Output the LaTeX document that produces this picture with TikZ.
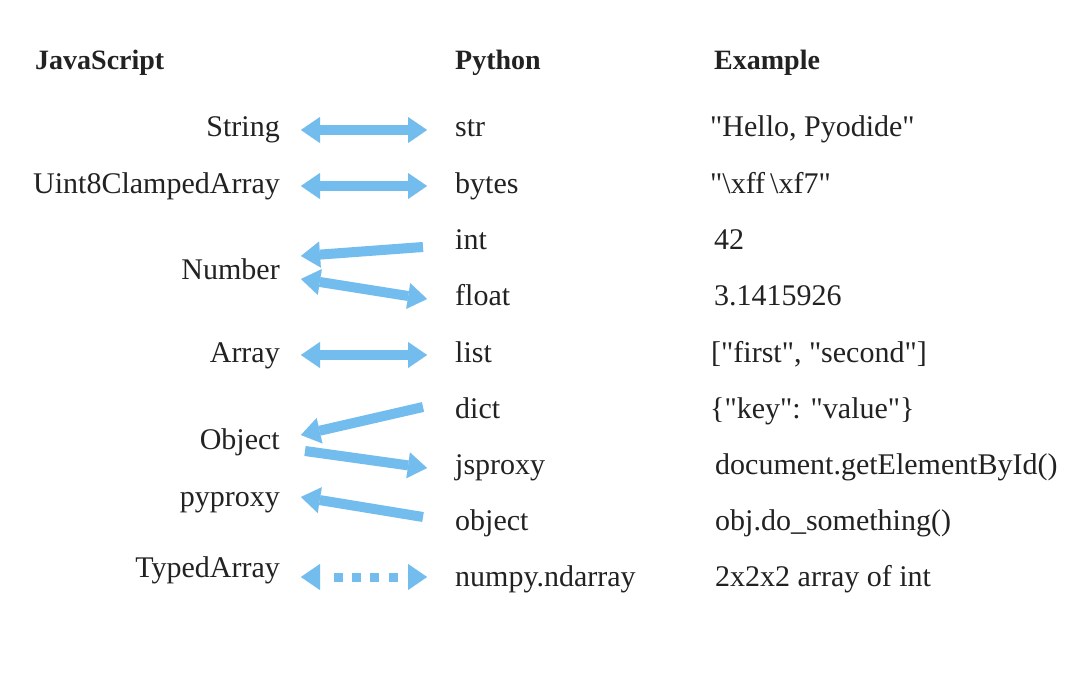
\documentclass[tikz,border=0pt]{standalone}
\usepackage{fontspec}
\setmainfont{Liberation Serif}
\newfontfamily\txtfont{Liberation Serif}
\usetikzlibrary{arrows.meta}
\definecolor{arrowblue}{RGB}{115,188,238}
\definecolor{ink}{RGB}{34,34,34}
\begin{document}
\begin{tikzpicture}[x=1pt,y=-1pt,
  lbl/.style={inner sep=0pt, text=ink, font=\txtfont\fontsize{30}{36}\selectfont},
  hdr/.style={inner sep=0pt, text=ink, font=\txtfont\fontsize{28}{34}\selectfont\bfseries, anchor=base west},
  jsl/.style={lbl, anchor=base east},
  pyl/.style={lbl, anchor=base west},
  headtip/.tip={Triangle[width=26pt,length=19pt,line width=0.01pt]},
  conv/.style={line width=10pt, draw=arrowblue, -headtip},
  both/.style={line width=10pt, draw=arrowblue, headtip-headtip},
]
\useasboundingbox[fill=white] (0,0) rectangle (1080,675);

% headers
\node[hdr] (hjs) at (35,69) {JavaScript};
\node[hdr] (hpy) at (455,69) {Python};
\node[hdr] (hex) at (714,69) {Example};

% JavaScript column
\node[jsl] (jstring) at (280,136) {String};
\node[jsl] (juint) at (280,193) {Uint8ClampedArray};
\node[jsl] (jnumber) at (280,279) {Number};
\node[jsl] (jarray) at (280,362) {Array};
\node[jsl] (jobject) at (280,449) {Object};
\node[jsl] (jpyproxy) at (280,506) {pyproxy};
\node[jsl] (jtyped) at (280,577) {TypedArray};

% Python column
\node[pyl] (pstr) at (455,136) {str};
\node[pyl] (pbytes) at (455,193) {bytes};
\node[pyl] (pint) at (455,249) {int};
\node[pyl] (pfloat) at (455,305) {float};
\node[pyl] (plist) at (455,362) {list};
\node[pyl] (pdict) at (455,418) {dict};
\node[pyl] (pjsproxy) at (455,474) {jsproxy};
\node[pyl] (pobject) at (455,530) {object};
\node[pyl] (pnumpy) at (455,586) {numpy.ndarray};

% Example column
\node[pyl] (estr) at (710,136) {"Hello, Pyodide"};
\node[pyl] (ebytes) at (710,193) {"\textbackslash xff\,\textbackslash xf7"};
\node[pyl] (eint) at (714,249) {42};
\node[pyl] (efloat) at (714,305) {3.1415926};
\node[pyl] (elist) at (711,362) {["first", "second"]};
\node[pyl] (edict) at (710,418) {\{"key": "value"\}};
\node[pyl] (ejsproxy) at (715,474) {document.getElementById()};
\node[pyl] (eobject) at (715,530) {obj.do\_something()};
\node[pyl] (enumpy) at (715,586) {2x2x2 array of int};

% connector end points
\coordinate (sL) at (301,130); \coordinate (sR) at (427,130);
\coordinate (bL) at (301,186); \coordinate (bR) at (427,186);
\coordinate (iT) at (423,247); \coordinate (iH) at (301,256);
\coordinate (fL) at (301,279); \coordinate (fR) at (427,299);
\coordinate (lL) at (301,355); \coordinate (lR) at (427,355);
\coordinate (dT) at (423,407); \coordinate (dH) at (301,435);
\coordinate (jT) at (305,451); \coordinate (jH) at (427,468);
\coordinate (oT) at (423,517); \coordinate (oH) at (301,497);
\coordinate (nL) at (301,577); \coordinate (nR) at (427,577);

% connectors
\draw[both] (sL) -- (sR);
\draw[both] (bL) -- (bR);
\draw[conv] (iT) -- (iH);
\draw[both] (fL) -- (fR);
\draw[both] (lL) -- (lR);
\draw[conv] (dT) -- (dH);
\draw[conv] (jT) -- (jH);
\draw[conv] (oT) -- (oH);
\draw[both, line width=9pt, dash pattern=on 0pt off 14pt on 9pt off 8.5pt on 9pt off 9.5pt on 9pt off 9.5pt on 9pt off 40pt] (nL) -- (nR);
\end{tikzpicture}
\end{document}
